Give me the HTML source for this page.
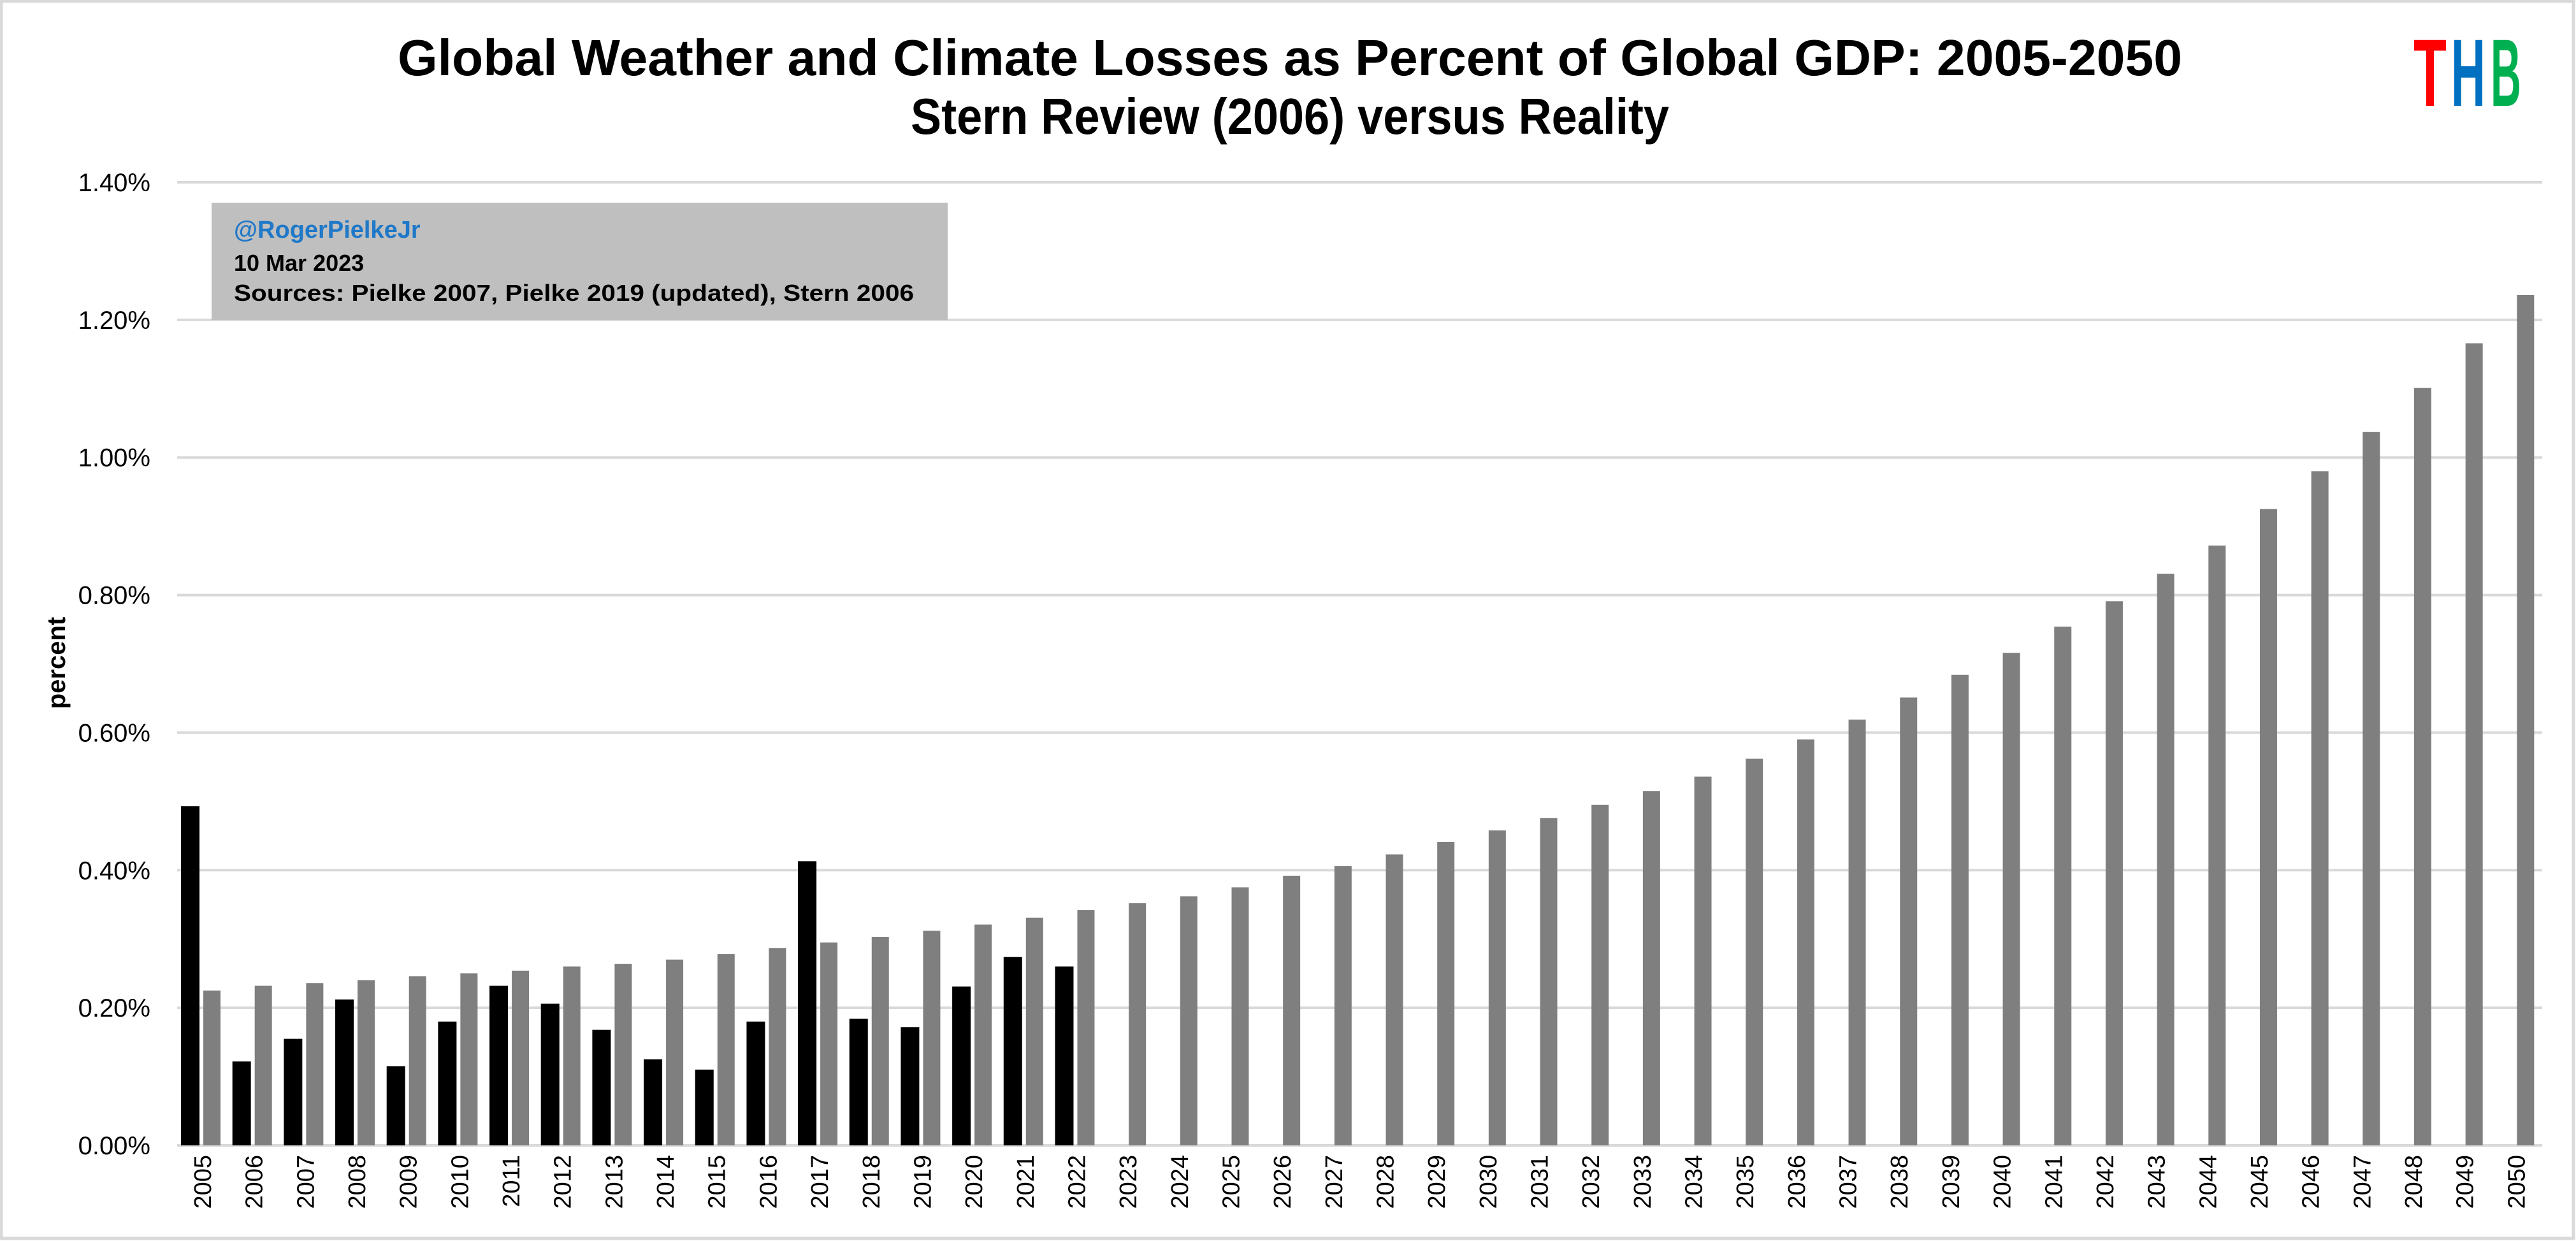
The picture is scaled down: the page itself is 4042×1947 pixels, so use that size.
<!DOCTYPE html>
<html><head><meta charset="utf-8"><style>
html,body{margin:0;padding:0;background:#fff;}
svg{display:block;font-family:"Liberation Sans",sans-serif;}
</style></head><body>
<svg id="chart" width="4042" height="1947" viewBox="0 0 4042 1947" xmlns="http://www.w3.org/2000/svg">
<rect x="2" y="2" width="4036" height="1941" fill="#fff" stroke="#d9d9d9" stroke-width="5"/>
<text x="2024" y="118" text-anchor="middle" font-size="80" font-weight="bold" textLength="2800" lengthAdjust="spacingAndGlyphs">Global Weather and Climate Losses as Percent of Global GDP: 2005-2050</text>
<text x="2024" y="210" text-anchor="middle" font-size="80" font-weight="bold" textLength="1190" lengthAdjust="spacingAndGlyphs">Stern Review (2006) versus Reality</text>
<g font-weight="bold" font-size="150">
<text x="3787" y="166" fill="#ff0000" textLength="52" lengthAdjust="spacingAndGlyphs">T</text>
<text x="3846" y="166" fill="#0070c0" textLength="54" lengthAdjust="spacingAndGlyphs">H</text>
<text x="3908" y="166" fill="#00b050" textLength="48" lengthAdjust="spacingAndGlyphs">B</text>
</g>
<g id="grid"></g>
<g id="bars"></g>
<g id="ylabels"></g>
<g id="xlabels"></g>
<text transform="translate(102,1040) rotate(-90)" text-anchor="middle" font-size="40" font-weight="bold">percent</text>
<g>
<rect x="332" y="318" width="1155" height="184" fill="#bfbfbf"/>
<text x="367" y="373" font-size="38" font-weight="bold" fill="#1f78c8">@RogerPielkeJr</text>
<text x="367" y="425" font-size="36" font-weight="bold">10 Mar 2023</text>
<text x="367" y="472" font-size="36" font-weight="bold" textLength="1067" lengthAdjust="spacingAndGlyphs">Sources: Pielke 2007, Pielke 2019 (updated), Stern 2006</text>
</g>
</svg>
<script>
const years = [];
for (let y = 2005; y <= 2050; y++) years.push(y);
const sternValues = [0.225,0.232,0.236,0.240,0.246,0.250,0.254,0.260,0.264,0.270,0.278,0.287,0.295,0.303,0.312,0.321,0.331,0.342,0.352,0.362,0.375,0.392,0.406,0.423,0.441,0.458,0.476,0.495,0.515,0.536,0.562,0.590,0.619,0.651,0.684,0.716,0.754,0.791,0.831,0.872,0.925,0.980,1.037,1.101,1.166,1.236];
const actualValues = [0.493,0.122,0.155,0.212,0.115,0.180,0.232,0.206,0.168,0.125,0.110,0.180,0.413,0.184,0.172,0.231,0.274,0.260];
const yTicks = [0,0.2,0.4,0.6,0.8,1.0,1.2,1.4];
const yTickLabels = ["0.00%","0.20%","0.40%","0.60%","0.80%","1.00%","1.20%","1.40%"];

const NS = "http://www.w3.org/2000/svg";
const plotL = 278, plotR = 3989, y0 = 1797, yTop = 286, yMax = 1.4;
const bw = (plotR - plotL) / years.length;
const yScale = v => y0 - (v / yMax) * (y0 - yTop);
const xScale = i => plotL + i * bw;
function mk(tag, attrs, parent) {
  const e = document.createElementNS(NS, tag);
  for (const k in attrs) e.setAttribute(k, attrs[k]);
  parent.appendChild(e);
  return e;
}
const grid = document.getElementById('grid');
const yl = document.getElementById('ylabels');
yTicks.forEach((t, i) => {
  const y = yScale(t);
  const l = mk('line', {x1: plotL, x2: plotR, y1: y, y2: y, stroke: '#d9d9d9', 'stroke-width': 4}, grid);
  
  
  const tx = mk('text', {x: 236, y: y + 14, 'text-anchor': 'end', 'font-size': 40}, yl);
  tx.textContent = yTickLabels[i];
  
  
});
const bars = document.getElementById('bars');
const xl = document.getElementById('xlabels');
years.forEach((yr, i) => {
  const x = xScale(i);
  if (i < actualValues.length) {
    const v = actualValues[i];
    const b = mk('rect', {x: x + 6, y: yScale(v), width: 29, height: y0 - yScale(v), fill: '#000'}, bars);
    
    
  }
  const s = sternValues[i];
  const g = mk('rect', {x: x + 41, y: yScale(s), width: 27, height: y0 - yScale(s), fill: '#7f7f7f'}, bars);
  
  
  const cx = x + 40;
  const t = mk('text', {transform: 'translate(' + (cx + 13) + ',1812) rotate(-90)', 'text-anchor': 'end', 'font-size': 38}, xl);
  t.textContent = yr;
  
  
});
</script>
</body></html>
